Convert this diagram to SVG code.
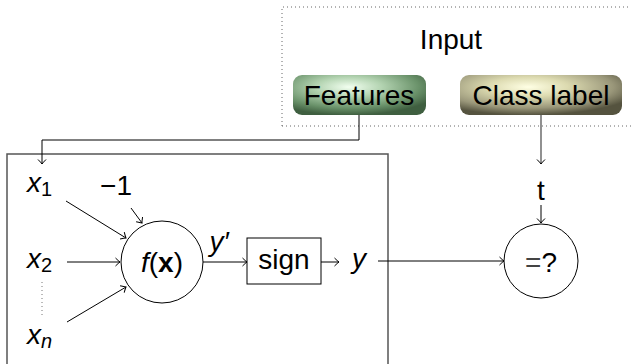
<svg xmlns="http://www.w3.org/2000/svg" width="631" height="364" viewBox="0 0 631 364">
<style>
text{font-family:"Liberation Sans",Arial,sans-serif;font-size:28px;fill:#000}
.mi{font-style:italic}
.sub{font-size:20px;font-style:normal}
.subi{font-size:20px;font-style:italic}
.ln{fill:none;stroke:#000;stroke-width:1}
.lg{fill:none;stroke:#555;stroke-width:1.3}
</style>
<defs>
<marker id="to" markerUnits="userSpaceOnUse" markerWidth="12" markerHeight="12" viewBox="-6 -6 12 12" refX="0" refY="0" orient="auto">
<path d="M -4.5 -4 Q -1.5 -1 0 0 Q -1.5 1 -4.5 4" fill="none" stroke="#000" stroke-width="1"/>
</marker>
<radialGradient id="gG" cx="0.42" cy="0.3" r="0.7">
<stop offset="0" stop-color="#f2fff0"/>
<stop offset="0.35" stop-color="#b4d4b2"/>
<stop offset="0.75" stop-color="#6a926a"/>
<stop offset="1" stop-color="#3f5f40"/>
</radialGradient>
<radialGradient id="gY" cx="0.42" cy="0.3" r="0.7">
<stop offset="0" stop-color="#ffffe4"/>
<stop offset="0.35" stop-color="#dcdab0"/>
<stop offset="0.75" stop-color="#9a977a"/>
<stop offset="1" stop-color="#55533f"/>
</radialGradient>
</defs>

<g id="input-group">
<path d="M 282 126 L 282 7 L 631 7 M 282 126 L 631 126" fill="none" stroke="#666" stroke-width="1" stroke-dasharray="1 3"/>
<text x="451" y="49" text-anchor="middle">Input</text>
</g>

<g id="features">
<rect x="293" y="75" width="133" height="40" rx="9" fill="url(#gG)"/>
<text x="359" y="105" text-anchor="middle">Features</text>
</g>

<g id="class-label">
<rect x="460" y="75" width="162" height="40" rx="9" fill="url(#gY)"/>
<text x="541" y="105" text-anchor="middle">Class label</text>
</g>

<g id="perceptron-box">
<path d="M 7 366 L 7 154 L 388 154 L 388 366" fill="none" stroke="#555" stroke-width="1.5"/>
</g>

<g id="x1"><text x="27" y="192" class="mi">x<tspan class="sub" dy="4">1</tspan></text></g>
<g id="x2"><text x="27" y="268" class="mi">x<tspan class="sub" dy="4">2</tspan></text></g>
<g id="xn"><text x="27" y="344" class="mi">x<tspan class="subi" dy="4">n</tspan></text></g>
<g id="dots"><line x1="42" y1="282" x2="42" y2="316" stroke="#777" stroke-width="1" stroke-dasharray="1 3"/></g>
<g id="bias"><text x="116" y="195" text-anchor="middle">−1</text></g>

<g id="fx">
<circle cx="162" cy="262" r="41" fill="none" stroke="#000" stroke-width="1"/>
<text x="162" y="272" text-anchor="middle"><tspan font-style="italic">f</tspan>(<tspan font-weight="bold">x</tspan>)</text>
</g>

<g id="sign">
<rect x="247" y="238" width="74" height="46" fill="none" stroke="#000" stroke-width="1"/>
<text x="284" y="269" text-anchor="middle">sign</text>
</g>

<g id="y-label"><text x="359" y="268" text-anchor="middle" class="mi">y</text></g>
<g id="yprime-label"><text x="219" y="251" text-anchor="middle" class="mi">y′</text></g>
<g id="t-label"><text x="541" y="200" text-anchor="middle">t</text></g>

<g id="compare">
<circle cx="541" cy="261" r="37" fill="none" stroke="#000" stroke-width="1"/>
<text x="541" y="272" text-anchor="middle"><tspan fill="#444">=</tspan>?</text>
</g>

<g id="connectors">
<path class="ln" d="M 359 115 L 359 140 L 42 140 L 42 164" marker-end="url(#to)" stroke-width="1.3"/>
<path class="lg" d="M 541 115 L 541 164" marker-end="url(#to)"/>
<path class="ln" d="M 541 205 L 541 223" marker-end="url(#to)"/>
<path class="ln" d="M 66 201 L 126 238" marker-end="url(#to)"/>
<path class="ln" d="M 67 262 L 120 262" marker-end="url(#to)"/>
<path class="ln" d="M 67 322 L 126 287" marker-end="url(#to)"/>
<path class="ln" d="M 131 208 L 142 223" marker-end="url(#to)"/>
<path class="ln" d="M 203 262 L 247 262" marker-end="url(#to)"/>
<path class="ln" d="M 321 262 L 339 262" marker-end="url(#to)"/>
<path class="ln" d="M 378 261 L 504 261" marker-end="url(#to)"/>
</g>
</svg>
